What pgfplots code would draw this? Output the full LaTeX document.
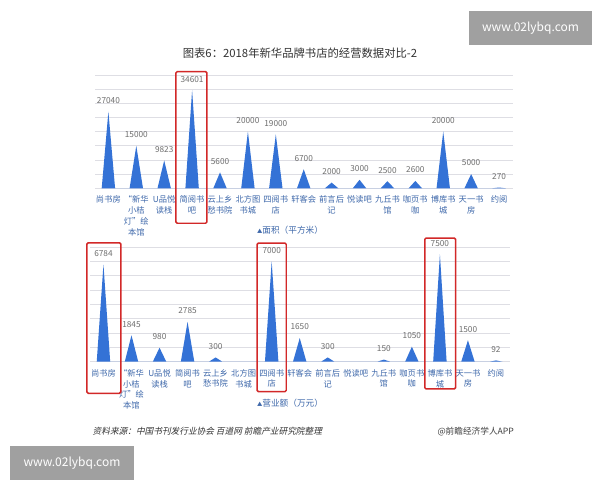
\documentclass[border=0pt]{standalone}
\usepackage{pgfplots}
\pgfplotsset{compat=1.18}
\usepackage{fontspec}
\setmainfont{Noto Sans CJK SC}
\newfontfamily\cjkit[FakeSlant=0.22]{Noto Sans CJK SC}
\definecolor{barblue}{RGB}{52,114,214}
\definecolor{catblue}{RGB}{62,104,170}
\definecolor{valgray}{RGB}{110,110,110}
\definecolor{gridgray}{RGB}{222,222,228}
\definecolor{boxred}{RGB}{210,40,40}
\definecolor{wmgray}{RGB}{160,160,160}
\pgfplotsset{
  spikeaxis/.style={
    scale only axis,
    anchor=south west,
    axis line style={draw=none},
    ymajorgrids,
    grid style={gridgray, line width=0.6pt},
    yticklabels={},
    scaled y ticks=false,
    major tick length=0pt,
    xtick={0,...,14},
    xmin=-0.48, xmax=14.5,
    ymin=0,
    clip=false,
    xticklabel style={font=\fontsize{6.2}{8.2}\selectfont, text=catblue, align=center, anchor=north, yshift=-2pt},
    nodes near coords style={font=\fontsize{6.2}{7}\selectfont, text=valgray, anchor=south, yshift=2.5pt},
  }
}
\begin{document}
\begin{tikzpicture}
\path[use as bounding box] (0,0) rectangle (450pt,360pt);
\fill[white] (0,0) rectangle (450pt,360pt);
% watermarks
\fill[wmgray] (351.75pt,325.9pt) rectangle (444pt,351.4pt);
\node[text=white, font=\fontsize{9}{10}\selectfont] at (397.9pt,338.6pt) {www.02lybq.com};
\fill[wmgray] (7.5pt,0pt) rectangle (100.5pt,25.5pt);
\node[text=white, font=\fontsize{9}{10}\selectfont] at (54pt,12.7pt) {www.02lybq.com};
% title
\node[text=black!80, font=\fontsize{8.5}{10}\selectfont] at (225pt,320.3pt) {图表6：2018年新华品牌书店的经营数据对比-2};

% ---------- top panel: area ----------
\begin{axis}[spikeaxis,
  at={(71.25pt,218.8pt)}, width=313.5pt, height=85pt,
  ymax=40000, ytick distance=5000,
  xticklabels={{尚书房},{“新华\\小桔\\灯”绘\\本馆},{U品悦\\读栈},{简阅书\\吧},{云上乡\\愁书院},{北方图\\书城},{四阅书\\店},{轩客会},{前言后\\记},{悦读吧},{九丘书\\馆},{咖页书\\咖},{博库书\\城},{天一书\\房},{约阅}},
]
\addplot[fill=barblue, draw=none] coordinates {
(-0.24,0) (0,27040) (0.24,0)
(0.76,0) (1,15000) (1.24,0)
(1.76,0) (2,9823) (2.24,0)
(2.76,0) (3,34601) (3.24,0)
(3.76,0) (4,5600) (4.24,0)
(4.76,0) (5,20000) (5.24,0)
(5.76,0) (6,19000) (6.24,0)
(6.76,0) (7,6700) (7.24,0)
(7.76,0) (8,2000) (8.24,0)
(8.76,0) (9,3000) (9.24,0)
(9.76,0) (10,2500) (10.24,0)
(10.76,0) (11,2600) (11.24,0)
(11.76,0) (12,20000) (12.24,0)
(12.76,0) (13,5000) (13.24,0)
(13.76,0) (14,270) (14.24,0)
} -- cycle;
\addplot[draw=none, mark=none, nodes near coords, point meta=explicit symbolic] coordinates {
(0,27040)[27040] (1,15000)[15000] (2,9823)[9823] (3,34601)[34601] (4,5600)[5600]
(5,20000)[20000] (6,19000)[19000] (7,6700)[6700] (8,2000)[2000] (9,3000)[3000]
(10,2500)[2500] (11,2600)[2600] (12,20000)[20000] (13,5000)[5000] (14,270)[270]
};
\draw[boxred, line width=1.1pt, rounded corners=1pt] (axis cs:2.42,-12350) rectangle (axis cs:3.53,41200);
\end{axis}
\node[font=\fontsize{6.5}{8}\selectfont, text=catblue] at (217.5pt,187.5pt) {{\fontsize{4}{5}\selectfont▲}面积（平方米）};

% ---------- bottom panel: revenue ----------
\begin{axis}[spikeaxis,
  at={(67.5pt,88.7pt)}, width=315pt, height=86pt,
  ymax=8000, ytick distance=1000,
  xticklabels={{尚书房},{“新华\\小桔\\灯”绘\\本馆},{U品悦\\读栈},{简阅书\\吧},{云上乡\\愁书院},{北方图\\书城},{四阅书\\店},{轩客会},{前言后\\记},{悦读吧},{九丘书\\馆},{咖页书\\咖},{博库书\\城},{天一书\\房},{约阅}},
]
\addplot[fill=barblue, draw=none] coordinates {
(-0.24,0) (0,6784) (0.24,0)
(0.76,0) (1,1845) (1.24,0)
(1.76,0) (2,980) (2.24,0)
(2.76,0) (3,2785) (3.24,0)
(3.76,0) (4,300) (4.24,0)
(5.76,0) (6,7000) (6.24,0)
(6.76,0) (7,1650) (7.24,0)
(7.76,0) (8,300) (8.24,0)
(9.76,0) (10,150) (10.24,0)
(10.76,0) (11,1050) (11.24,0)
(11.76,0) (12,7500) (12.24,0)
(12.76,0) (13,1500) (13.24,0)
(13.76,0) (14,92) (14.24,0)
} -- cycle;
\addplot[draw=none, mark=none, nodes near coords, point meta=explicit symbolic] coordinates {
(0,6784)[6784] (1,1845)[1845] (2,980)[980] (3,2785)[2785] (4,300)[300]
(6,7000)[7000] (7,1650)[1650] (8,300)[300] (10,150)[150]
(11,1050)[1050] (12,7500)[7500] (13,1500)[1500] (14,92)[92]
};
\draw[boxred, line width=1.1pt, rounded corners=1pt] (axis cs:-0.59,-2200) rectangle (axis cs:0.62,8300);
\draw[boxred, line width=1.1pt, rounded corners=1pt] (axis cs:5.48,-2090) rectangle (axis cs:6.52,8280);
\draw[boxred, line width=1.1pt, rounded corners=1pt] (axis cs:11.46,-1900) rectangle (axis cs:12.56,8630);
\end{axis}
\node[font=\fontsize{6.5}{8}\selectfont, text=catblue] at (217.5pt,57.8pt) {{\fontsize{4}{5}\selectfont▲}营业额（万元）};

% footer
\node[anchor=west, font=\cjkit\fontsize{6.5}{8}\selectfont, text=black!80] at (66pt,36.4pt) {资料来源：中国书刊发行业协会 百道网 前瞻产业研究院整理};
\node[anchor=east, font=\fontsize{6.5}{8}\selectfont, text=black!75] at (389pt,36.4pt) {@前瞻经济学人APP};
\end{tikzpicture}
\end{document}
